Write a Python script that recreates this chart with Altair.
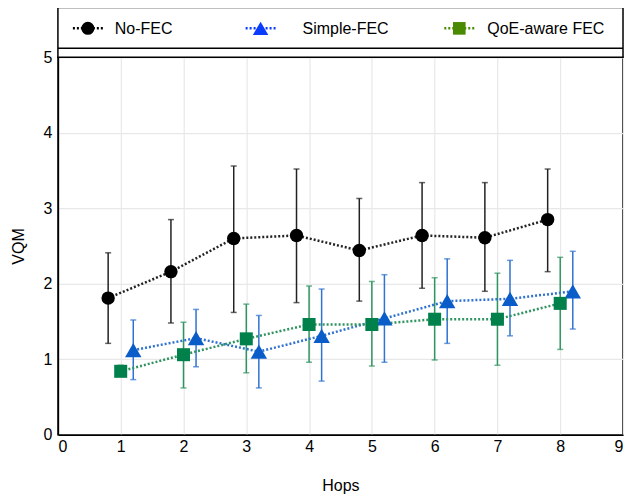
import altair as alt
import pandas as pd

series = ["No-FEC", "Simple-FEC", "QoE-aware FEC"]
hops = [1, 2, 3, 4, 5, 6, 7, 8]
shift = {"No-FEC": -0.2, "Simple-FEC": 0.2, "QoE-aware FEC": 0.0}

nofec_mean = [1.81, 2.16, 2.60, 2.64, 2.44, 2.64, 2.61, 2.85]
nofec_lo = [1.21, 1.48, 1.62, 1.75, 1.77, 1.94, 1.90, 2.16]
nofec_hi = [2.41, 2.85, 3.56, 3.52, 3.13, 3.34, 3.34, 3.52]

simple_mean = [1.12, 1.28, 1.10, 1.31, 1.54, 1.77, 1.80, 1.90]
simple_lo = [0.73, 0.90, 0.62, 0.71, 0.96, 1.21, 1.31, 1.40]
simple_hi = [1.52, 1.66, 1.58, 1.93, 2.12, 2.33, 2.31, 2.43]

qoe_mean = [0.84, 1.06, 1.27, 1.46, 1.46, 1.53, 1.53, 1.74]
qoe_lo = [0.78, 0.62, 0.82, 0.96, 0.91, 0.99, 0.92, 1.13]
qoe_hi = [0.92, 1.49, 1.73, 1.97, 2.03, 2.08, 2.14, 2.35]

plot_colors = ["#000000", "#0a5cc8", "#00804a"]
bar_colors = ["#222222", "#2f72d2", "#2f9460"]
legend_colors = ["#000000", "#0a3cff", "#4a8a00"]
shapes = ["circle", "triangle-up", "square"]
marker_sizes = [180, 270, 170]
legend_sizes = [170, 240, 160]

rows = []
for name, m, lo, hi in [("No-FEC", nofec_mean, nofec_lo, nofec_hi),
                        ("Simple-FEC", simple_mean, simple_lo, simple_hi),
                        ("QoE-aware FEC", qoe_mean, qoe_lo, qoe_hi)]:
    for h, a, b, c in zip(hops, m, lo, hi):
        rows.append({"series": name, "hops": h + shift[name], "vqm": a, "lo": b, "hi": c})
df = pd.DataFrame(rows)

W, H = 566, 378
FONT = "Liberation Sans"

xs = alt.Scale(domain=[0, 9], nice=False)
ys = alt.Scale(domain=[0, 5], nice=False)
xax = alt.Axis(values=list(range(10)), format="d", title="Hops", grid=True, ticks=False,
               labelPadding=4, titlePadding=23, domainColor="#000000", domainWidth=1.5)
yax = alt.Axis(values=list(range(6)), format="d", title="VQM", grid=True, ticks=False,
               labelPadding=6, titlePadding=17, domainColor="#000000", domainWidth=1.5)

col_main = alt.Color("series:N", scale=alt.Scale(domain=series, range=plot_colors), legend=None)
col_bar = alt.Color("series:N", scale=alt.Scale(domain=series, range=bar_colors), legend=None)

base = alt.Chart(df)
bars = base.mark_rule(strokeWidth=1.5).encode(
    x=alt.X("hops:Q", scale=xs, axis=xax),
    y=alt.Y("lo:Q", scale=ys, axis=yax),
    y2="hi:Q",
    color=col_bar,
)
cap_lo = base.mark_tick(orient="horizontal", size=6, thickness=1.5).encode(
    x=alt.X("hops:Q", scale=xs), y=alt.Y("lo:Q", scale=ys), color=col_bar)
cap_hi = base.mark_tick(orient="horizontal", size=6, thickness=1.5).encode(
    x=alt.X("hops:Q", scale=xs), y=alt.Y("hi:Q", scale=ys), color=col_bar)
lines = base.mark_line(strokeDash=[2, 2], strokeWidth=2.5).encode(
    x=alt.X("hops:Q", scale=xs), y=alt.Y("vqm:Q", scale=ys), color=col_main,
    detail="series:N")

layers = [bars, cap_lo, cap_hi, lines]
for i, name in enumerate(series):
    layers.append(base.transform_filter(alt.datum.series == name).mark_point(
        filled=True, opacity=1, shape=shapes[i], size=marker_sizes[i],
        color=plot_colors[i]).encode(
        x=alt.X("hops:Q", scale=xs), y=alt.Y("vqm:Q", scale=ys)))

one = pd.DataFrame({"k": [0]})
layers.append(alt.Chart(one).mark_rect(fill="white", stroke="#000000", strokeWidth=1.5).encode(
    x=alt.value(0), x2=alt.value(W), y=alt.value(-50), y2=alt.value(0)))
layers.append(alt.Chart(one).mark_rule(color="#000000", strokeWidth=1.5).encode(
    x=alt.value(0), x2=alt.value(W), y=alt.value(-9)))

# legend entries (symbol centre and text start, in pixels from plot left)
sym_x = [30, 203, 402]
txt_x = [57, 245, 430]
ldf = pd.DataFrame({"series": series})
for i, name in enumerate(series):
    sub = alt.Chart(ldf).transform_filter(alt.datum.series == name)
    layers.append(sub.mark_point(shape="M-1,0L1,0", size=900, filled=False, strokeWidth=2.5,
                                 strokeDash=[2, 2], opacity=1, color=legend_colors[i]).encode(
        x=alt.value(sym_x[i]), y=alt.value(-29)))
    layers.append(sub.mark_point(filled=True, size=legend_sizes[i], opacity=1, shape=shapes[i],
                                 color=legend_colors[i]).encode(
        x=alt.value(sym_x[i]), y=alt.value(-29)))
    layers.append(sub.mark_text(align="left", baseline="middle", font=FONT, fontSize=16,
                                color="#000000").encode(
        x=alt.value(txt_x[i]), y=alt.value(-28), text="series:N"))

chart = alt.layer(*layers).properties(
    width=W, height=H,
    autosize=alt.AutoSizeParams(type="none"),
    padding={"left": 50, "top": 49, "right": 4, "bottom": 60},
).configure_view(
    stroke="#000000", strokeWidth=1.5
).configure_axis(
    labelFont=FONT, titleFont=FONT, labelFontSize=16, titleFontSize=16,
    titleFontWeight="normal", labelColor="#000000", titleColor="#000000",
    gridColor="#e8e8e8", gridWidth=1.2,
)

chart.save("out.html", embed_options={"renderer": "svg", "actions": False})
